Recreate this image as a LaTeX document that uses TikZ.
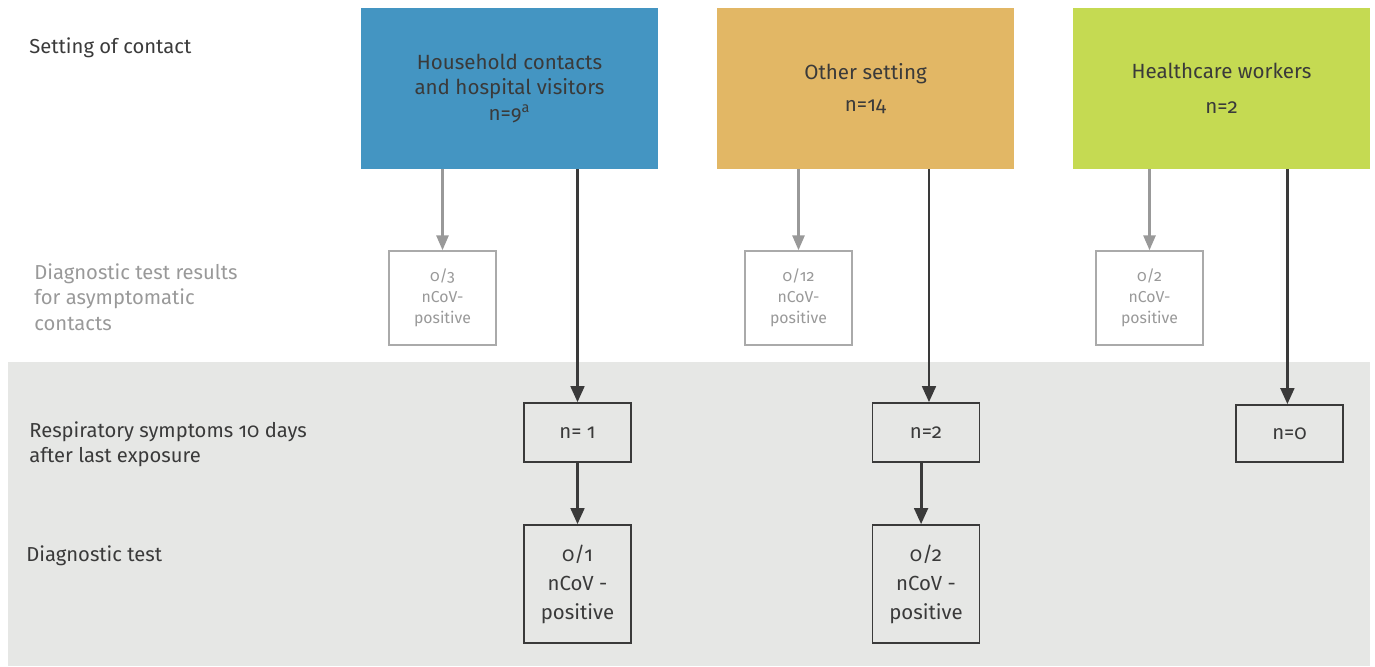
\documentclass[tikz,border=0pt]{standalone}
\usepackage{fontspec}
\setmainfont[Numbers=OldStyle]{Fira Sans}
\usepackage{tikz}
\usetikzlibrary{
    arrows.meta,
    positioning
}
\usepackage{xcolor}
\definecolor{hhblue}{HTML}{4495C2}
\definecolor{otherorange}{HTML}{E2B765}
\definecolor{hcwgreen}{HTML}{C5DA52}
\definecolor{bggray}{HTML}{E6E7E5}
\definecolor{darktext}{HTML}{3A3A3A}
\definecolor{lightgray}{HTML}{999999}
\definecolor{boxgray}{HTML}{AAAAAA}

\begin{document}
\begin{tikzpicture}[
    x=0.02cm, y=-0.02cm,
    setbox/.style={
        rectangle, minimum width=5.94cm, minimum height=3.22cm,
        align=center, text=darktext, font=\fontsize{11.7}{14.3}\selectfont
    },
    asybox/.style={
        rectangle, draw=boxgray, line width=0.8pt, fill=white,
        minimum width=2.14cm, minimum height=1.88cm,
        align=center, text=lightgray, font=\fontsize{9}{11.8}\selectfont
    },
    symbox/.style={
        rectangle, draw=darktext, line width=0.9pt,
        minimum width=2.14cm, align=center, text=darktext,
        font=\fontsize{11.6}{16.5}\selectfont
    },
    lbl/.style={anchor=west, align=left, inner sep=0pt, text=darktext,
        font=\fontsize{11.5}{14.4}\selectfont},
    arrow/.style={-{Triangle[length=0.32cm, width=0.27cm]}, line width=1.7pt, darktext},
    greyarrow/.style={-{Triangle[length=0.3cm, width=0.24cm]}, line width=1.6pt, lightgray}
]
\useasboundingbox (0,0) rectangle (1375,666);

% Background band
\fill[bggray] (8,362) rectangle (1370,666);

% Settings (top row)
\node[setbox, fill=hhblue] (hh) at (509.5, 88.5)
    {Household contacts\\and hospital visitors\\n=9\textsuperscript{a}};
\node[setbox, fill=otherorange] (other) at (865.5, 88.5) {Other setting\\[4pt]n=14};
\node[setbox, fill=hcwgreen] (hcw) at (1221.5, 88.5) {Healthcare workers\\[5.5pt]n=2};

% Asymptomatic contacts
\node[asybox] (asyA) at (442.5, 298) {0/3\\nCoV-\\positive};
\node[asybox] (asyB) at (798.5, 298) {0/12\\nCoV-\\positive};
\node[asybox] (asyC) at (1149.5, 298) {0/2\\nCoV-\\positive};

% Symptoms
\node[symbox, minimum height=1.18cm] (symA) at (577.5, 432.5) {n= 1};
\node[symbox, minimum height=1.18cm] (symB) at (926, 432.5) {n=2};
\node[symbox, minimum height=1.14cm] (symC) at (1289.5, 433.5) {n=0};

% Diagnostic test
\node[symbox, minimum height=2.36cm] (testA) at (577.5, 584) {0/1\\nCoV -\\positive};
\node[symbox, minimum height=2.36cm] (testB) at (926, 584) {0/2\\nCoV -\\positive};

% Row labels
\node[lbl] (lset) at (29, 48) {Setting of contact};
\node[lbl, text=lightgray] (lasy) at (34, 297)
    {Diagnostic test results\\for asymptomatic\\contacts};
\node[lbl] (lsym) at (29, 444.5) {Respiratory symptoms 10 days\\after last exposure};
\node[lbl] (ltest) at (26, 556) {Diagnostic test};

% Arrows to asymptomatic results
\draw[greyarrow] (hh.south -| asyA.north) -- (asyA.north);
\draw[greyarrow] (other.south -| asyB.north) -- (asyB.north);
\draw[greyarrow] (hcw.south -| asyC.north) -- (asyC.north);

% Arrows to symptoms
\draw[arrow] (hh.south -| symA.north) -- (symA.north);
\draw[arrow] ([xshift=1.7pt]other.south -| symB.north) -- ([xshift=1.7pt]symB.north);
\draw[arrow] ([xshift=-1.2pt]hcw.south -| symC.north) -- ([xshift=-1.2pt]symC.north);

% Arrows to tests
\draw[arrow] (symA) -- (testA);
\draw[arrow] ([xshift=-2.8pt]symB.south) -- ([xshift=-2.8pt]testB.north);

\end{tikzpicture}
\end{document}
